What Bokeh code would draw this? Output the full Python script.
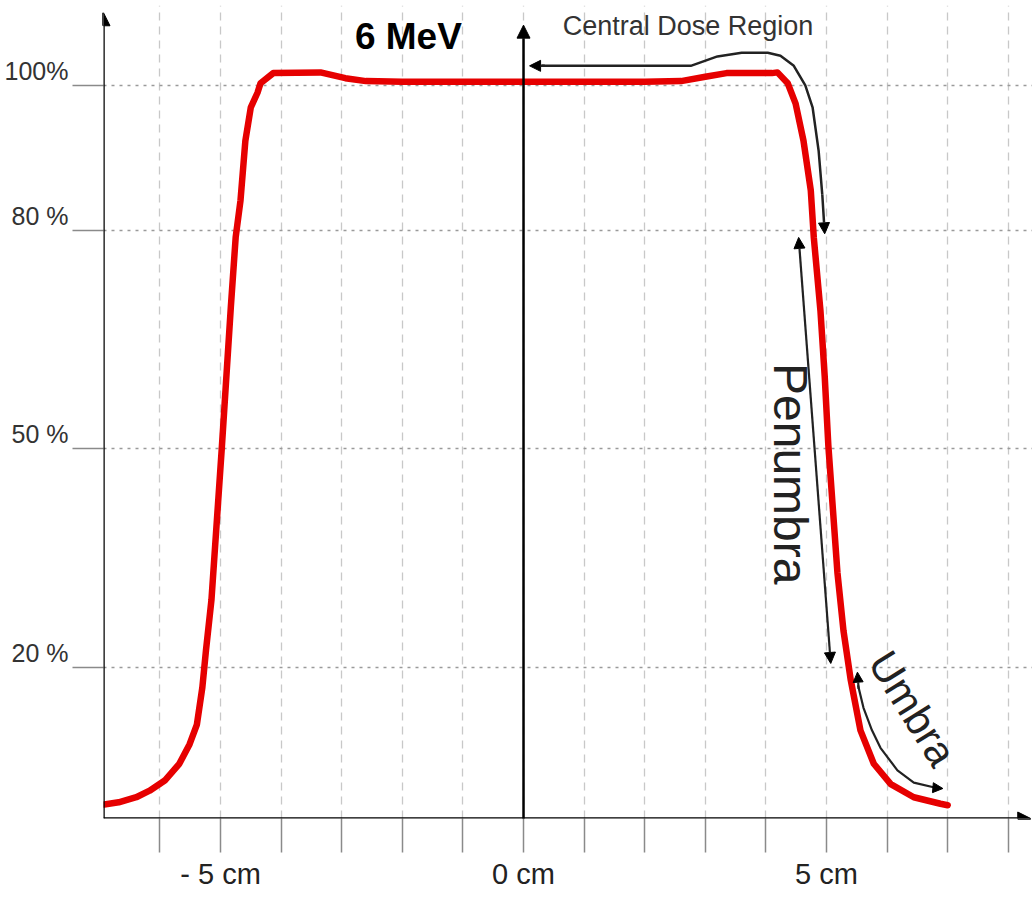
import math
from bokeh.plotting import figure
from bokeh.models import Range1d, LinearAxis, FixedTicker, Arrow, NormalHead, Label
from bokeh.embed import file_html
from bokeh.resources import INLINE

# ---- data: 6 MeV lateral dose profile (position in cm, relative dose in %) ----
pos_cm = [-6.92, -6.68, -6.39, -6.17, -5.92, -5.68, -5.51, -5.39, -5.30, -5.24,
          -5.15, -4.98, -4.83, -4.75, -4.67, -4.59, -4.50, -4.39, -4.34, -4.13,
          -3.35, -2.94, -2.60, -2.0, -1.0, 0.0, 1.0, 2.0, 2.6, 3.0,
          3.35, 4.1, 4.19, 4.36, 4.49, 4.62, 4.74, 4.79, 4.90, 4.97,
          5.03, 5.18, 5.28, 5.40, 5.56, 5.78, 6.06, 6.44, 6.88, 7.0]
dose_pct = [1.1, 1.4, 2.1, 3.0, 4.4, 6.7, 9.4, 12.1, 17.2, 22.3,
            29.2, 50.0, 69.5, 79.1, 84.2, 92.4, 97.0, 99.0, 100.3, 101.7,
            101.8, 101.0, 100.6, 100.5, 100.5, 100.5, 100.5, 100.5, 100.6, 101.2,
            101.7, 101.7, 101.8, 100.3, 97.5, 92.4, 85.6, 79.1, 69.0, 60.0,
            50.5, 33.0, 25.0, 18.2, 11.3, 6.7, 3.9, 2.1, 1.2, 1.0]

x_ticks = [-5, 0, 5]
x_minor_ticks = [-6, -4, -3, -2, -1, 1, 2, 3, 4, 6, 7, 8]
x_tick_labels = {-5: "- 5 cm", 0: "0 cm", 5: "5 cm"}
y_ticks = [20, 50, 80, 100]
y_tick_labels = {20: "20 %", 50: "50 %", 80: "80 %", 100: "100%"}

# annotation paths (data units)
cdr_x = [0.3, 2.76, 3.20, 3.60, 4.03, 4.24, 4.46, 4.65, 4.77, 4.87, 4.93]
cdr_y = [102.7, 102.7, 104.0, 104.5, 104.5, 104.1, 102.7, 100.0, 97.0, 91.0, 85.0]
umb_x = [5.52, 5.61, 5.75, 5.89, 6.17, 6.44, 6.80]
umb_y = [17.5, 14.4, 11.3, 8.9, 5.8, 4.1, 3.4]

X0, X1 = -6.931, 8.399
Y0, Y1 = -0.825, 111.0
SANS = "Liberation Sans"
INK = "#222222"
TICK = "#8a8a8a"

p = figure(width=1032, height=899, x_range=Range1d(X0, X1), y_range=Range1d(Y0, Y1),
           output_backend="svg", toolbar_location=None,
           min_border_left=103, min_border_right=0, min_border_top=5, min_border_bottom=81)
p.outline_line_color = None
p.background_fill_color = "white"
p.border_fill_color = "white"

# grids
p.xgrid.ticker = FixedTicker(ticks=x_ticks + x_minor_ticks)
p.xgrid.grid_line_color = "#c8c8c8"
p.xgrid.grid_line_dash = "8 6"
p.xgrid.grid_line_width = 1.3
p.ygrid.ticker = FixedTicker(ticks=y_ticks)
p.ygrid.grid_line_color = "#9a9a9a"
p.ygrid.grid_line_dash = "3 5"
p.ygrid.grid_line_width = 1.6

# x axis: tick every cm (minor ticks drawn as long as major), labels at -5, 0, 5
xa = p.xaxis[0]
xa.ticker = FixedTicker(ticks=x_ticks, minor_ticks=x_minor_ticks)
xa.major_label_overrides = x_tick_labels
xa.major_tick_out = 34
xa.major_tick_in = 0
xa.minor_tick_out = 34
xa.minor_tick_in = 0
xa.major_tick_line_color = TICK
xa.minor_tick_line_color = TICK
xa.major_tick_line_width = 1.5
xa.minor_tick_line_width = 1.5
xa.axis_line_color = None
xa.major_label_text_font = SANS
xa.major_label_text_font_size = "29px"
xa.major_label_text_color = INK
xa.major_label_standoff = 5

# y axis A: tick marks only (as minor ticks, no labels)
ya = p.yaxis[0]
ya.ticker = FixedTicker(ticks=[], minor_ticks=y_ticks)
ya.major_tick_out = 31
ya.major_tick_in = 0
ya.minor_tick_out = 31
ya.minor_tick_in = 0
ya.minor_tick_line_color = TICK
ya.minor_tick_line_width = 1.6
ya.axis_line_color = None
ya.major_label_standoff = 0

# y axis B: labels sitting just above their grid line
d = 2.0
p.extra_y_ranges = {"lbl": Range1d(Y0 - d, Y1 - d)}
yb = LinearAxis(y_range_name="lbl", ticker=FixedTicker(ticks=y_ticks),
                major_label_overrides=y_tick_labels)
yb.major_tick_out = 0
yb.major_tick_in = 0
yb.major_tick_line_color = None
yb.minor_tick_line_color = None
yb.axis_line_color = None
yb.major_label_text_font = SANS
yb.major_label_text_font_size = "25px"
yb.major_label_text_color = "#333333"
yb.major_label_standoff = 4
p.add_layout(yb, "left")

# axis lines with arrow heads
def head(sz=13):
    return NormalHead(size=sz, fill_color="black", line_color="black")

p.add_layout(Arrow(end=head(), x_start=X0, y_start=Y0, x_end=X0, y_end=110.0,
                   line_width=2.5, line_color="black"))
p.add_layout(Arrow(end=head(), x_start=X0, y_start=Y0, x_end=8.37, y_end=Y0,
                   line_width=2.5, line_color="black"))
p.add_layout(Arrow(end=head(), x_start=0, y_start=-5.5, x_end=0, y_end=108.3,
                   line_width=2.5, line_color="black"))

# dose profile
p.line(pos_cm, dose_pct, line_color="#e60000", line_width=6.5, line_join="round", line_cap="round")

# annotation arrows
p.line(cdr_x, cdr_y, line_color=INK, line_width=2.5, line_join="round")
p.add_layout(Arrow(end=head(11), x_start=0.35, y_start=102.7, x_end=0.1, y_end=102.7,
                   line_width=2.5, line_color=INK))
p.add_layout(Arrow(end=head(11), x_start=4.93, y_start=85.0, x_end=4.97, y_end=79.6,
                   line_width=2.5, line_color=INK))
p.add_layout(Arrow(start=head(11), end=head(11), x_start=4.54, y_start=79.1, x_end=5.07, y_end=20.5,
                   line_width=2.2, line_color=INK))
p.line(umb_x, umb_y, line_color=INK, line_width=2.2, line_join="round")
p.add_layout(Arrow(end=head(10), x_start=5.53, y_start=17.0, x_end=5.51, y_end=19.3,
                   line_width=2.2, line_color=INK))
p.add_layout(Arrow(end=head(10), x_start=6.78, y_start=3.4, x_end=6.92, y_end=3.3,
                   line_width=2.2, line_color=INK))

# texts
p.add_layout(Label(x=-1.9, y=106.8, text="6 MeV", text_align="center", text_baseline="middle",
                   text_font=SANS, text_font_style="bold", text_font_size="37px",
                   text_color="black"))
p.add_layout(Label(x=2.715, y=108.2, text="Central Dose Region", text_align="center",
                   text_baseline="middle", text_font=SANS, text_font_size="27px",
                   text_color="#333333"))
p.add_layout(Label(x=4.406, y=46.6, text="Penumbra", angle=-math.pi / 2, text_align="center",
                   text_baseline="middle", text_font=SANS, text_font_size="48px",
                   text_color=INK))
p.add_layout(Label(x=6.42, y=14.3, text="Umbra", angle=-math.radians(58), text_align="center",
                   text_baseline="middle", text_font=SANS, text_font_size="42px",
                   text_color=INK))

open("out.html", "w").write(file_html(p, INLINE))
